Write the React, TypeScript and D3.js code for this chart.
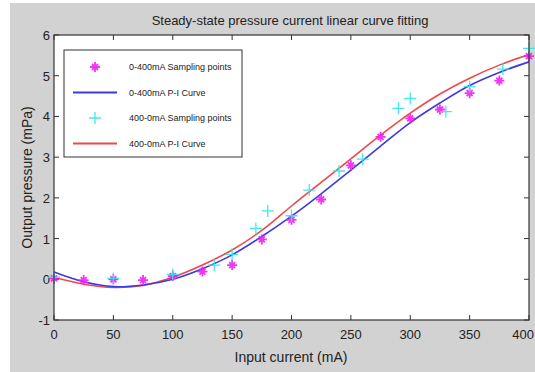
import React, { useRef, useEffect } from 'react';
import * as d3 from 'd3';

// sampling points
const upX = [0, 25, 50, 75, 100, 125, 150, 175, 200, 225, 250, 275, 300, 325, 350, 375, 400];
const upY = [0.02, -0.02, 0.0, -0.02, 0.08, 0.19, 0.35, 0.98, 1.46, 1.96, 2.8, 3.5, 3.95, 4.17, 4.57, 4.88, 5.48];
const downX = [0, 50, 100, 135, 150, 170, 180, 200, 215, 240, 260, 290, 300, 330, 350, 378, 400];
const downY = [0.05, 0.02, 0.12, 0.35, 0.61, 1.25, 1.68, 1.56, 2.19, 2.66, 2.95, 4.2, 4.44, 4.12, 4.73, 5.16, 5.67];

// fitted curves, sampled every 25 mA
const curveX = [0, 25, 50, 75, 100, 125, 150, 175, 200, 225, 250, 275, 300, 325, 350, 375, 400];
const upFit = [0.18, -0.06, -0.18, -0.14, 0.0, 0.26, 0.6, 1.05, 1.55, 2.1, 2.68, 3.27, 3.85, 4.33, 4.76, 5.08, 5.34];
const downFit = [0.05, -0.12, -0.2, -0.15, 0.05, 0.35, 0.72, 1.2, 1.8, 2.38, 2.96, 3.54, 4.08, 4.55, 4.94, 5.26, 5.52];

const xTicks = [0, 50, 100, 150, 200, 250, 300, 350, 400];
const yTicks = [-1, 0, 1, 2, 3, 4, 5, 6];

const legendItems = [
  { label: '0-400mA Sampling points', kind: 'star', color: '#f020f0' },
  { label: '0-400mA P-I Curve', kind: 'line', color: '#3a3ae0' },
  { label: '400-0mA Sampling points', kind: 'plus', color: '#30e8e8' },
  { label: '400-0mA P-I Curve', kind: 'line', color: '#f04848' },
];

const W = 535;
const H = 372;
const font = 'Arial, "Liberation Sans", sans-serif';

export default function App() {
  const svgRef = useRef<SVGSVGElement | null>(null);

  useEffect(() => {
    if (!svgRef.current) return;
    const svg = d3.select(svgRef.current);
    svg.selectAll('*').remove();

    const margin = { top: 35, right: 6, bottom: 52, left: 54 };
    const x = d3.scaleLinear().domain([0, 400]).range([margin.left, W - margin.right]);
    const y = d3.scaleLinear().domain([-1, 6]).range([H - margin.bottom, margin.top]);

    svg.append('rect').attr('x', 10).attr('y', 3).attr('width', W - 10).attr('height', H - 3).attr('fill', '#d2d2d2');
    svg.append('rect')
      .attr('x', x(0)).attr('y', y(6))
      .attr('width', x(400) - x(0)).attr('height', y(-1) - y(6))
      .attr('fill', '#fff');

    const tickLen = 5;
    const tg = svg.append('g').attr('stroke', '#333').attr('stroke-width', 1);
    xTicks.forEach(t => {
      tg.append('line').attr('x1', x(t)).attr('x2', x(t)).attr('y1', y(-1)).attr('y2', y(-1) - tickLen);
      tg.append('line').attr('x1', x(t)).attr('x2', x(t)).attr('y1', y(6)).attr('y2', y(6) + tickLen);
    });
    yTicks.forEach(t => {
      tg.append('line').attr('x1', x(0)).attr('x2', x(0) + tickLen).attr('y1', y(t)).attr('y2', y(t));
      tg.append('line').attr('x1', x(400)).attr('x2', x(400) - tickLen).attr('y1', y(t)).attr('y2', y(t));
    });

    svg.append('g').selectAll('text').data(xTicks).join('text')
      .attr('x', d => (d === 400 ? W - 1 : x(d))).attr('y', y(-1) + 19)
      .attr('text-anchor', d => (d === 400 ? 'end' : 'middle'))
      .attr('font-family', font).attr('font-size', 13).attr('fill', '#222')
      .text(d => d);

    svg.append('g').selectAll('text').data(yTicks).join('text')
      .attr('x', x(0) - 4).attr('y', d => y(d) + 5)
      .attr('text-anchor', 'end')
      .attr('font-family', font).attr('font-size', 13).attr('fill', '#222')
      .text(d => d);

    // curves
    const line = d3.line<number>()
      .x((_, i) => x(curveX[i]))
      .y(d => y(d))
      .curve(d3.curveCatmullRom);
    svg.append('path').attr('d', line(downFit)).attr('fill', 'none').attr('stroke', '#f04848').attr('stroke-width', 1.6);
    svg.append('path').attr('d', line(upFit)).attr('fill', 'none').attr('stroke', '#3a3ae0').attr('stroke-width', 1.6);

    const drawStar = (g: d3.Selection<SVGGElement, unknown, null, undefined>, cx: number, cy: number, color: string) => {
      const r = 5;
      const p = `M${cx - r},${cy}L${cx + r},${cy}M${cx},${cy - r}L${cx},${cy + r}` +
        `M${cx - r * 0.6},${cy - r * 0.6}L${cx + r * 0.6},${cy + r * 0.6}M${cx - r * 0.6},${cy + r * 0.6}L${cx + r * 0.6},${cy - r * 0.6}`;
      g.append('path').attr('d', p).attr('stroke', color).attr('stroke-width', 1.8).attr('opacity', 0.9);
    };
    const drawPlus = (g: d3.Selection<SVGGElement, unknown, null, undefined>, cx: number, cy: number, color: string) => {
      const r = 6;
      g.append('path').attr('d', `M${cx - r},${cy}L${cx + r},${cy}M${cx},${cy - r}L${cx},${cy + r}`)
        .attr('stroke', color).attr('stroke-width', 1.3).attr('opacity', 0.9);
    };

    const pts = svg.append('g');
    upX.forEach((v, i) => drawStar(pts, x(v), y(upY[i]), '#f020f0'));
    downX.forEach((v, i) => drawPlus(pts, x(v), y(downY[i]), '#30e8e8'));

    // frame
    svg.append('rect')
      .attr('x', x(0)).attr('y', y(6))
      .attr('width', x(400) - x(0)).attr('height', y(-1) - y(6))
      .attr('fill', 'none').attr('stroke', '#333').attr('stroke-width', 1.2);

    // legend
    const lg = svg.append('g');
    lg.append('rect').attr('x', 64).attr('y', 50).attr('width', 178).attr('height', 107)
      .attr('fill', '#fff').attr('stroke', '#333').attr('stroke-width', 1);
    legendItems.forEach((item, i) => {
      const ly = 67 + i * 25.5;
      if (item.kind === 'line') {
        lg.append('line').attr('x1', 73).attr('x2', 117).attr('y1', ly).attr('y2', ly)
          .attr('stroke', item.color).attr('stroke-width', 1.8);
      } else if (item.kind === 'star') {
        drawStar(lg, 95, ly, item.color);
      } else {
        drawPlus(lg, 95, ly, item.color);
      }
      lg.append('text').attr('x', 129).attr('y', ly + 3)
        .attr('font-family', font).attr('font-size', 9).attr('fill', '#222')
        .text(item.label);
    });

    svg.append('text').attr('x', 290).attr('y', 25)
      .attr('text-anchor', 'middle').attr('font-family', font).attr('font-size', 13).attr('fill', '#222')
      .text('Steady-state pressure current linear curve fitting');
    svg.append('text').attr('x', 291).attr('y', 362)
      .attr('text-anchor', 'middle').attr('font-family', font).attr('font-size', 14).attr('fill', '#222')
      .text('Input current (mA)');
    svg.append('text')
      .attr('transform', `translate(32,${(y(6) + y(-1)) / 2}) rotate(-90)`)
      .attr('text-anchor', 'middle').attr('font-family', font).attr('font-size', 14).attr('fill', '#222')
      .text('Output pressure (mPa)');
  }, []);

  return (
    <div style={{ position: 'fixed', left: 0, top: 0, width: W, height: H }}>
      <svg ref={svgRef} width={W} height={H}></svg>
    </div>
  );
}
